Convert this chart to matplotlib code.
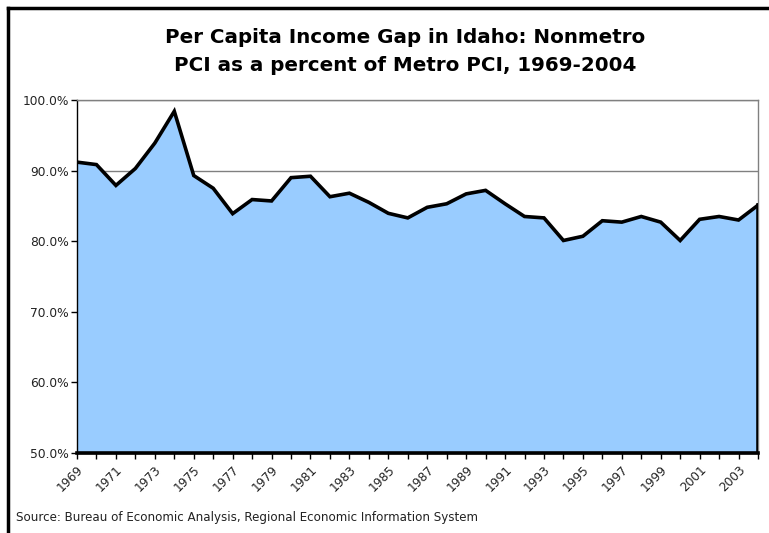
import matplotlib
matplotlib.use("Agg")
import matplotlib.pyplot as plt
from matplotlib.lines import Line2D
from matplotlib.ticker import FuncFormatter, MultipleLocator

years = list(range(1969, 2005))
pci_gap = [91.2, 90.85, 87.9, 90.3, 93.9, 98.4, 89.3, 87.5, 83.9, 85.9,
           85.7, 89.0, 89.2, 86.3, 86.8, 85.5, 83.95, 83.3, 84.8, 85.3,
           86.7, 87.2, 85.3, 83.5, 83.3, 80.1, 80.7, 82.9, 82.7, 83.5,
           82.7, 80.1, 83.1, 83.5, 83.0, 85.1]
tick_years = list(range(1969, 2004, 2))

title = "Per Capita Income Gap in Idaho: Nonmetro\nPCI as a percent of Metro PCI, 1969-2004"
source = "Source: Bureau of Economic Analysis, Regional Economic Information System"

plt.rcParams['font.family'] = ['DejaVu Sans']

fig = plt.figure(figsize=(7.69, 5.33), dpi=100)
ax = fig.add_axes([77/769, 80/533, (758-77)/769, (453-100)/533])

ax.fill_between(years, 50, pci_gap, color="#99CCFF", zorder=2)
ax.plot(years, pci_gap, color="black", lw=2.6, zorder=3, solid_joinstyle="miter")
ax.plot([years[-1], years[-1]], [50, pci_gap[-1]], color="black", lw=2.6, zorder=3)
ax.plot([years[0], years[-1]], [50, 50], color="black", lw=2.6, zorder=3, clip_on=False)

ax.set_xlim(years[0], years[-1])
ax.set_ylim(50, 100)
ax.yaxis.set_major_locator(MultipleLocator(10))
ax.yaxis.set_major_formatter(FuncFormatter(lambda v, p: f"{v:.1f}%"))
ax.grid(axis="y", color="#808080", lw=1, zorder=1)
ax.set_axisbelow(True)

ax.set_xticks(years, minor=False)
ax.set_xticklabels([str(y) if y in tick_years else "" for y in years],
                   rotation=45, ha="right", rotation_mode="anchor", fontsize=8.7,
                   color="#222222")
ax.tick_params(axis="x", direction="out", length=4, width=1, color="black", pad=3)
ax.tick_params(axis="y", direction="out", length=4, width=1, color="black", labelsize=8.8,
               pad=2, labelcolor="#222222")

for s in ["top", "right"]:
    ax.spines[s].set_color("#808080")
    ax.spines[s].set_linewidth(1)
ax.spines["left"].set_color("black")
ax.spines["left"].set_linewidth(1)
ax.spines["bottom"].set_color("black")
ax.spines["bottom"].set_linewidth(1)

fig.text(405/769, 1 - 51.5/533, title, ha="center", va="center", fontsize=14.3,
         fontweight="bold", linespacing=1.6)
fig.text(16/769, 1 - 518/533, source, ha="left", va="center", fontsize=8.6,
         color="#222222")

# chart border (top & left visible)
fig.add_artist(Line2D([7.5/769, 1], [1 - 7.5/533, 1 - 7.5/533], color="black", lw=2.5,
                      transform=fig.transFigure))
fig.add_artist(Line2D([7.5/769, 7.5/769], [0, 1 - 7.5/533], color="black", lw=2.5,
                      transform=fig.transFigure))

fig.savefig("out.png", dpi=100)
